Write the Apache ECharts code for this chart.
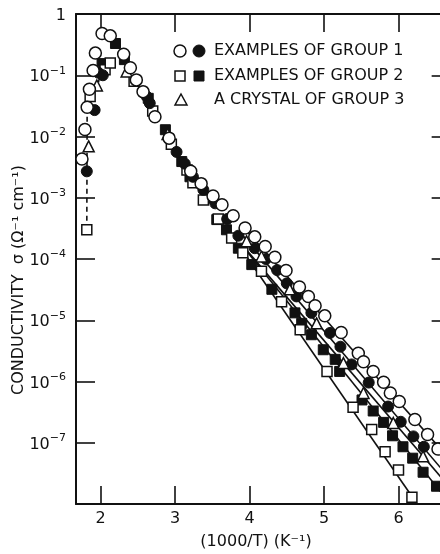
<!DOCTYPE html>
<html>
<head>
<meta charset="utf-8">
<script src="https://cdn.jsdelivr.net/npm/echarts@6/dist/echarts.min.js"></script>
<style>html,body{margin:0;padding:0;background:#fff}#c{width:440px;height:554px}</style>
</head>
<body>
<div id="c"></div>
<script>
// x: 1000/T (K^-1), y: conductivity (ohm^-1 cm^-1)
const group1Open = [
  [1.75,4.3e-3],[1.79,1.3e-2],[1.82,3.0e-2],[1.85,5.9e-2],[1.90,1.2e-1],[1.93,2.3e-1],
  [2.02,4.8e-1],[2.13,4.4e-1],[2.31,2.2e-1],[2.40,1.33e-1],[2.48,8.4e-2],[2.57,5.4e-2],
  [2.73,2.1e-2],[2.92,9.4e-3],[3.21,2.7e-3],[3.35,1.7e-3],[3.51,1.07e-3],[3.63,7.7e-4],
  [3.78,5.1e-4],[3.94,3.2e-4],[4.07,2.3e-4],[4.21,1.6e-4],[4.34,1.07e-4],[4.49,6.5e-5],
  [4.67,3.5e-5],[4.79,2.45e-5],[4.88,1.73e-5],[5.01,1.18e-5],[5.23,6.3e-6],[5.46,2.9e-6],
  [5.53,2.1e-6],[5.66,1.46e-6],[5.80,9.7e-7],[5.89,6.5e-7],[6.01,4.7e-7],[6.22,2.4e-7],
  [6.39,1.36e-7],[6.53,7.9e-8]
];
const group1Filled = [
  [1.815,2.7e-3],[1.92,2.7e-2],[1.97,1.1e-1],[2.03,1.0e-1],[2.62,4.5e-2],[2.66,3.5e-2],
  [3.02,5.6e-3],[3.13,3.6e-3],[3.24,2.2e-3],[3.38,1.35e-3],[3.54,8.1e-4],[3.70,4.5e-4],
  [3.85,2.4e-4],[4.07,1.5e-4],[4.22,1.0e-4],[4.37,6.6e-5],[4.50,4.0e-5],[4.63,2.45e-5],
  [4.83,1.32e-5],[5.08,6.2e-6],[5.22,3.7e-6],[5.37,1.9e-6],[5.60,9.6e-7],[5.86,3.9e-7],
  [6.03,2.2e-7],[6.20,1.27e-7],[6.34,8.6e-8]
];
const group2Open = [
  [1.815,3.0e-4],[1.86,4.5e-2],[2.06,1.23e-1],[2.13,1.58e-1],[2.45,8.0e-2],[2.70,2.6e-2],
  [2.95,7.5e-3],[3.16,2.85e-3],[3.24,1.75e-3],[3.38,9.2e-4],[3.58,4.5e-4],[3.76,2.2e-4],
  [3.91,1.26e-4],[4.16,6.3e-5],[4.43,2.0e-5],[4.68,7.0e-6],[5.04,1.46e-6],[5.39,3.8e-7],
  [5.64,1.64e-7],[5.82,7.1e-8],[6.00,3.6e-8],[6.18,1.29e-8]
];
const group2Filled = [
  [2.02,1.55e-1],[2.20,3.3e-1],[2.32,1.8e-1],[2.64,4.2e-2],[2.87,1.29e-2],[3.09,3.9e-3],
  [3.20,2.2e-3],[3.43,9.9e-4],[3.56,4.4e-4],[3.69,3.0e-4],[3.85,1.5e-4],[4.03,8.1e-5],
  [4.30,3.2e-5],[4.61,1.32e-5],[4.70,8.9e-6],[4.83,5.8e-6],[4.99,3.3e-6],[5.15,2.3e-6],
  [5.21,1.46e-6],[5.51,5.0e-7],[5.66,3.3e-7],[5.80,2.15e-7],[5.92,1.3e-7],[6.06,8.6e-8],
  [6.19,5.6e-8],[6.33,3.3e-8],[6.51,1.95e-8]
];
const group3Crystal = [
  [1.84,6.9e-3],[1.95,6.8e-2],[2.35,1.15e-1],[2.90,1.1e-2],[3.96,1.95e-4],[4.16,1.1e-4],
  [4.54,3.2e-5],[4.90,8.9e-6],[5.26,2.0e-6],[5.53,6.5e-7],[5.93,2.1e-7],[6.33,6.0e-8]
];
// fitted straight lines (end points)
const fitLines = [
  [[3.9,3.5e-4],[6.7,5.2e-8]],
  [[3.9,2.5e-4],[6.7,2.5e-8]],
  [[3.9,1.7e-4],[6.7,1.8e-8]],
  [[3.9,1.66e-4],[6.6,1.4e-8]],
  [[3.9,1.4e-4],[6.25,1.0e-8]]
];
const dashedLine = [[1.815,3.0e-4],[1.82,4.0e-2]];
const dashedLine2 = [[1.95,5.5e-2],[1.99,1.0e-1]];
const xTicks = [2,3,4,5,6];
const legendLabels = ['EXAMPLES OF GROUP 1','EXAMPLES OF GROUP 2','A CRYSTAL OF GROUP 3'];
const xName = '(1000/T) (K\u207B\u00B9)';
const yName = 'CONDUCTIVITY  \u03C3 (\u03A9\u207B\u00B9 cm\u207B\u00B9)';

const FONT = 'DejaVu Sans';
const INK = '#111111';
function yLabel(v){
  const e = Math.round(Math.log10(v));
  if (e === 0) return '{b|1}';
  if (e <= -8) return '';
  return '{b|10}{s|' + String(e).replace('-', '\u2212') + '}';
}

const chart = echarts.init(document.getElementById('c'), null, {renderer:'canvas'});
const X0 = 1.67, X1 = 6.7;
const axisLineStyle = {color: INK, width: 2};
const series = [];
fitLines.forEach((d,i)=>series.push({type:'line', data:d, symbol:'none', lineStyle:{color:INK,width:1.6}, z:2, silent:true}));
series.push({type:'line', data:dashedLine, symbol:'none', lineStyle:{color:INK,width:1.6,type:[5,4]}, z:2});
series.push({type:'line', data:dashedLine2, symbol:'none', lineStyle:{color:INK,width:1.6,type:[5,4]}, z:2});
const openStyle = {color:'#fff', borderColor:INK, borderWidth:1.5, opacity:1};
const fillStyle = {color:INK, borderColor:INK, borderWidth:1, opacity:1};
series.push({type:'scatter', name:'g2f', data:group2Filled, symbol:'rect', symbolSize:10, itemStyle:fillStyle, z:3});
series.push({type:'scatter', name:'g2o', data:group2Open, symbol:'rect', symbolSize:10, itemStyle:openStyle, z:4});
series.push({type:'scatter', name:'g1f', data:group1Filled, symbol:'circle', symbolSize:11, itemStyle:fillStyle, z:5});
series.push({type:'scatter', name:'g3', data:group3Crystal, symbol:'triangle', symbolSize:11, itemStyle:openStyle, z:6});
series.push({type:'scatter', name:'g1o', data:group1Open, symbol:'circle', symbolSize:12, itemStyle:openStyle, z:7});

const legendG = [];
const rowsY = [51,76,100];
legendG.push({type:'circle', shape:{cx:180, cy:rowsY[0], r:6}, style:{fill:'#fff', stroke:INK, lineWidth:1.5}});
legendG.push({type:'circle', shape:{cx:199, cy:rowsY[0], r:6}, style:{fill:INK, stroke:INK, lineWidth:1}});
legendG.push({type:'rect', shape:{x:175, y:rowsY[1]-5, width:10, height:10}, style:{fill:'#fff', stroke:INK, lineWidth:1.5}});
legendG.push({type:'rect', shape:{x:194, y:rowsY[1]-5, width:10, height:10}, style:{fill:INK, stroke:INK, lineWidth:1}});
legendG.push({type:'polygon', shape:{points:[[181,rowsY[2]-6],[187,rowsY[2]+5],[175,rowsY[2]+5]]}, style:{fill:'#fff', stroke:INK, lineWidth:1.5}});
legendLabels.forEach((t,i)=>legendG.push({type:'text', x:214, y:rowsY[i], style:{text:t, fill:INK, font:'16px "'+FONT+'"', align:'left', verticalAlign:'middle'}}));
legendG.push({type:'text', x:256, y:542, style:{text:xName, fill:INK, font:'16px "'+FONT+'"', align:'center', verticalAlign:'middle'}});
legendG.push({type:'text', x:19, y:280, rotation:Math.PI/2, style:{text:yName, fill:INK, font:'16px "'+FONT+'"', align:'center', verticalAlign:'middle'}});

chart.setOption({
  animation:false,
  backgroundColor:'#fff',
  grid:{left:76, top:14, bottom:50, right:-10.65, containLabel:false, outerBoundsMode:'none'},
  xAxis:[
    {type:'value', position:'bottom', min:X0, max:X1,
     axisLine:{lineStyle:axisLineStyle}, splitLine:{show:false},
     axisTick:{inside:true, length:18, lineStyle:{color:INK,width:1.6}, customValues:xTicks},
     axisLabel:{customValues:xTicks, margin:7, color:INK, fontSize:16, fontFamily:FONT}},
    {type:'value', position:'top', min:X0, max:X1,
     axisLine:{lineStyle:axisLineStyle}, splitLine:{show:false},
     axisTick:{inside:true, length:18, lineStyle:{color:INK,width:1.6}, customValues:xTicks},
     axisLabel:{show:false}}
  ],
  yAxis:[
    {type:'log', logBase:10, min:1e-8, max:1, interval:1, position:'left',
     axisLine:{lineStyle:axisLineStyle}, splitLine:{show:false}, minorTick:{show:false},
     axisTick:{inside:true, length:19, lineStyle:{color:INK,width:1.6}},
     axisLabel:{formatter:yLabel, margin:10, color:INK, fontFamily:FONT,
       rich:{
         b:{fontSize:16, fontFamily:FONT, color:INK, lineHeight:20, verticalAlign:'bottom'},
         s:{fontSize:11, fontFamily:FONT, color:INK, lineHeight:20, verticalAlign:'top', padding:[0,0,6,0]}
       }}},
    {type:'log', logBase:10, min:1e-8, max:1, interval:1, position:'right',
     axisLine:{lineStyle:axisLineStyle}, splitLine:{show:false},
     axisTick:{inside:true, length:19, lineStyle:{color:INK,width:1.6}},
     axisLabel:{show:false}}
  ],
  series: series,
  graphic: legendG
});
</script>
</body>
</html>
